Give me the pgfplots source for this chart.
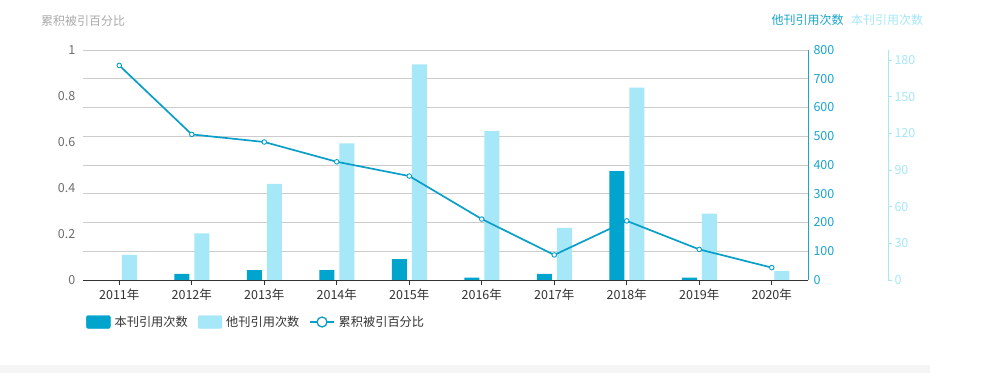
\documentclass[border=0pt]{standalone}
\usepackage{fontspec}
\setmainfont{Noto Sans CJK SC}
\usepackage{pgfplots}
\usepackage{pgfplotstable}
\pgfplotsset{compat=1.18}
\definecolor{dk}{HTML}{00A4CC}
\definecolor{lt}{HTML}{A6E8F8}
\definecolor{ln}{HTML}{0A9FC9}
\definecolor{ax1}{HTML}{1AA6CA}
\definecolor{ax2}{HTML}{A6E8F8}
\definecolor{gridc}{HTML}{CCCCCC}
\definecolor{tx}{HTML}{333333}
\definecolor{lab}{HTML}{6E6E6E}
\definecolor{ttl}{HTML}{AAAAAA}
\definecolor{band}{HTML}{F5F5F5}
\pgfplotstableread{
x other self pct
0 87 0 0.933
1 162 5 0.633
2 334 8 0.600
3 475 8 0.514
4 750 17 0.452
5 518 2 0.265
6 181 5 0.109
7 669 89 0.257
8 231 2 0.133
9 31 0 0.054
}\data
\begin{document}
\begin{tikzpicture}[x=1pt,y=1pt]
\path[use as bounding box, fill=white] (0pt,0pt) rectangle (992pt,373pt);
\fill[band] (0pt,0pt) rectangle (930pt,8pt);
\pgfplotsset{
  base/.style={scale only axis, height=230pt, at={(83pt,93pt)}, anchor=south west,
    xmin=-0.5, /pgf/number format/assume math mode=true,
    tick label style={font=\fontsize{12.5}{14}\selectfont}},
}
% Axis A: 他刊 on 0-800 (right axis), grid
\begin{axis}[base, width=725pt, xmax=9.5, ymin=0, ymax=800,
  ytick={0,100,...,800}, ymajorgrids, grid style={gridc, line width=0.8pt},
  axis x line=none, axis y line*=right,
  y axis line style={ax1, line width=0.9pt},
  major tick length=0pt,
  yticklabel style={ax1, xshift=2pt},
  ybar, bar width=15pt]
\addplot[fill=lt, draw=none, bar shift=10pt] table[x=x, y=other] {\data};
\end{axis}
% Axis B: 本刊 on 0-188 (outer right axis)
\begin{axis}[base, width=805pt, xmax=10.6034, ymin=0, ymax=188.2,
  ytick={0,30,...,180},
  axis x line=none, axis y line*=right,
  y axis line style={ax2, line width=0.9pt},
  ytick style={ax2, line width=0.9pt}, tick align=outside, major tick length=4pt,
  yticklabel style={ax2, xshift=-1pt},
  ybar, bar width=15pt]
\addplot[fill=dk, draw=none, bar shift=-10pt] table[x=x, y=self] {\data};
\end{axis}
% Axis C: 累积被引百分比 (left axis), x axis, line
\begin{axis}[base, width=725pt, xmax=9.5, ymin=0, ymax=1,
  ytick={0,0.2,0.4,0.6,0.8,1},
  yticklabels={0,0.2,0.4,0.6,0.8,1},
  axis x line*=bottom, axis y line*=left,
  y axis line style={draw=none},
  x axis line style={tx, line width=0.9pt},
  xtick={0,...,9},
  xticklabels={2011年,2012年,2013年,2014年,2015年,2016年,2017年,2018年,2019年,2020年},
  xtick style={tx, line width=0.9pt}, 
  x tick style={/pgfplots/major tick length=5pt}, tick align=outside,
  ytick style={draw=none},
  xticklabel style={tx, yshift=-1pt},
  yticklabel style={lab},
  legend style={at={(0,0)}, anchor=west, yshift=-42pt, xshift=0pt,
    draw=none, fill=none, font=\fontsize{12.2}{14}\selectfont, text=tx,
    /tikz/every odd column/.style={column sep=2pt},
    /tikz/every even column/.style={column sep=8pt}},
  legend columns=3]
\addlegendimage{legend image code/.code={\fill[dk, rounded corners=2pt] (0pt,-6.5pt) rectangle (24pt,6.5pt);}}
\addlegendentry{本刊引用次数}
\addlegendimage{legend image code/.code={\fill[lt, rounded corners=2pt] (0pt,-6.5pt) rectangle (24pt,6.5pt);}}
\addlegendentry{他刊引用次数}
\addlegendimage{legend image code/.code={\draw[ln, line width=1.3pt] (0pt,0pt)--(24pt,0pt); \filldraw[fill=white, draw=ln, line width=1.3pt] (12pt,0pt) circle (5pt);}}
\addlegendentry{累积被引百分比}
\addplot[ln, line width=1.7pt, mark=*, mark size=2.3pt,
  mark options={fill=white, draw=ln, line width=0.9pt}, forget plot]
  table[x=x, y=pct] {\data};
\end{axis}
\node[ttl, font=\fontsize{12}{14}\selectfont] at (83pt,352pt) {累积被引百分比};
\node[ax1, font=\fontsize{12}{14}\selectfont] at (807.5pt,353pt) {他刊引用次数};
\node[ax2, font=\fontsize{12}{14}\selectfont] at (887pt,353pt) {本刊引用次数};
\end{tikzpicture}
\end{document}
